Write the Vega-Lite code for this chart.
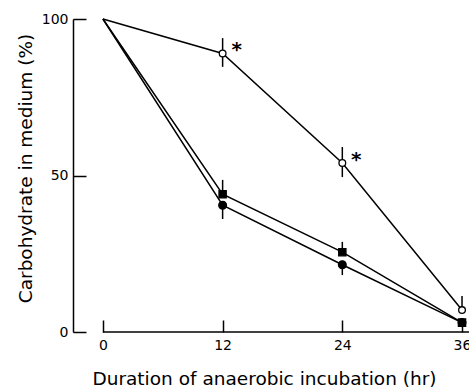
{
  "$schema": "https://vega.github.io/schema/vega-lite/v6.json",
  "width": 396,
  "height": 313,
  "autosize": {"type": "none"},
  "padding": {"left": 73, "top": 19, "right": 0, "bottom": 58},
  "background": "white",
  "config": {
    "view": {"stroke": null},
    "axis": {
      "grid": false,
      "labelFont": "DejaVu Sans",
      "titleFont": "DejaVu Sans",
      "labelColor": "#000",
      "titleColor": "#000",
      "domainColor": "#000",
      "tickColor": "#000",
      "domainWidth": 1.5,
      "tickWidth": 1.5,
      "titleFontWeight": "normal",
      "labelFontSize": 14,
      "titleFontSize": 18.5
    }
  },
  "datasets": {
    "pts": [
      {"hr": 0, "val": 100, "lo": 100, "hi": 100, "series": "A"},
      {"hr": 12, "val": 89, "lo": 84.7, "hi": 93.9, "series": "A"},
      {"hr": 24, "val": 54, "lo": 49.5, "hi": 59.1, "series": "A"},
      {"hr": 36, "val": 7, "lo": 7, "hi": 11.5, "series": "A"},
      {"hr": 0, "val": 100, "lo": 100, "hi": 100, "series": "B"},
      {"hr": 12, "val": 44, "lo": 44, "hi": 48.6, "series": "B"},
      {"hr": 24, "val": 25.5, "lo": 25.5, "hi": 28.8, "series": "B"},
      {"hr": 36, "val": 3, "lo": 3, "hi": 3, "series": "B"},
      {"hr": 0, "val": 100, "lo": 100, "hi": 100, "series": "C"},
      {"hr": 12, "val": 40.5, "lo": 36.1, "hi": 40.5, "series": "C"},
      {"hr": 24, "val": 21.5, "lo": 18.2, "hi": 21.5, "series": "C"},
      {"hr": 36, "val": 3, "lo": 3, "hi": 3, "series": "C"}
    ],
    "stars": [
      {"hr": 12, "val": 89, "mark": "*"},
      {"hr": 24, "val": 54, "mark": "*"}
    ],
    "xaxis": [{"from": 0, "to": 36.7, "y": 0}]
  },
  "layer": [
    {
      "data": {"name": "xaxis"},
      "mark": {"type": "rule", "color": "#000", "strokeWidth": 1.5},
      "encoding": {
        "x": {"field": "from", "type": "quantitative",
          "scale": {"domain": [-3, 36.7], "nice": false, "zero": false},
          "axis": {
            "values": [0, 12, 24, 36],
            "domain": false,
            "tickSize": -12,
            "labelPadding": 18,
            "title": "Duration of anaerobic incubation  (hr)",
            "titleX": 191,
            "titleY": 46,
            "titleBaseline": "middle"
          }},
        "x2": {"field": "to"},
        "y": {"field": "y", "type": "quantitative",
          "scale": {"domain": [0, 100], "nice": false},
          "axis": {
            "values": [0, 50, 100],
            "tickSize": -13,
            "labelPadding": 18,
            "title": "Carbohydrate in medium (%)",
            "titleX": -48,
            "titleY": 149,
            "titleBaseline": "middle"
          }}
      }
    },
    {
      "data": {"name": "pts"},
      "mark": {"type": "line", "color": "#000", "strokeWidth": 1.5},
      "encoding": {
        "x": {"field": "hr", "type": "quantitative"},
        "y": {"field": "val", "type": "quantitative"},
        "detail": {"field": "series"}
      }
    },
    {
      "data": {"name": "pts"},
      "transform": [{"filter": "datum.hr > 0"}],
      "mark": {"type": "rule", "color": "#000", "strokeWidth": 1.5},
      "encoding": {
        "x": {"field": "hr", "type": "quantitative"},
        "y": {"field": "lo", "type": "quantitative"},
        "y2": {"field": "hi"}
      }
    },
    {
      "data": {"name": "pts"},
      "transform": [{"filter": "datum.hr > 0"}],
      "mark": {"type": "point", "filled": true, "stroke": "#000", "strokeWidth": 1.3, "opacity": 1},
      "encoding": {
        "x": {"field": "hr", "type": "quantitative"},
        "y": {"field": "val", "type": "quantitative"},
        "shape": {"field": "series", "type": "nominal",
          "scale": {"domain": ["A", "B", "C"], "range": ["circle", "square", "circle"]}, "legend": null},
        "fill": {"field": "series", "type": "nominal",
          "scale": {"domain": ["A", "B", "C"], "range": ["#fff", "#000", "#000"]}, "legend": null},
        "size": {"field": "series", "type": "nominal",
          "scale": {"domain": ["A", "B", "C"], "range": [45, 60, 30]}, "legend": null}
      }
    },
    {
      "data": {"name": "stars"},
      "mark": {"type": "text", "font": "DejaVu Sans", "fontSize": 20, "fontWeight": "bold", "dx": 14, "dy": -3, "baseline": "middle", "color": "#000"},
      "encoding": {
        "x": {"field": "hr", "type": "quantitative"},
        "y": {"field": "val", "type": "quantitative"},
        "text": {"field": "mark"}
      }
    }
  ]
}
